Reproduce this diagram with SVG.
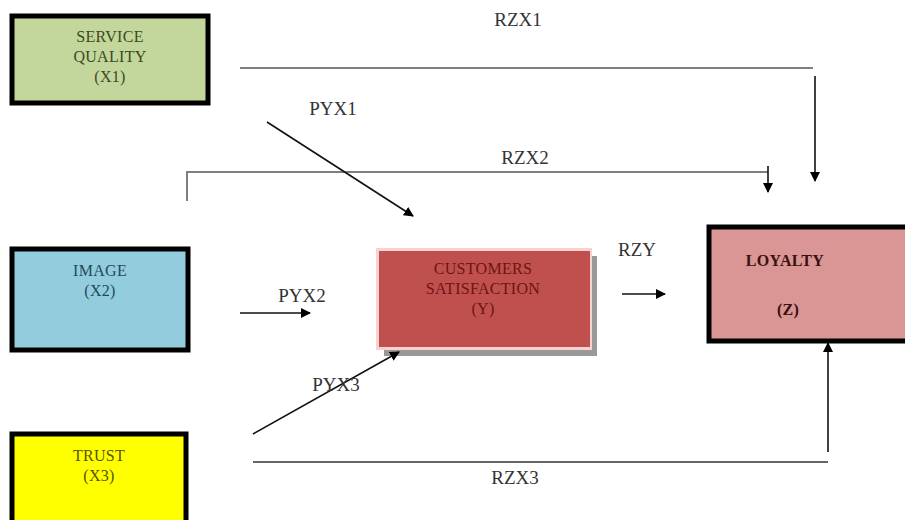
<svg xmlns="http://www.w3.org/2000/svg" width="905" height="520" viewBox="0 0 905 520">
<defs>
<marker id="ah" viewBox="0 0 10 10" refX="9" refY="5" markerWidth="10" markerHeight="10" markerUnits="userSpaceOnUse" orient="auto">
<path d="M0,0 L10,5 L0,10 z" fill="#000"/>
</marker>
</defs>
<style>
.box{stroke:#000;stroke-width:5}
.bt{font-family:"Liberation Serif",serif;font-size:16px;text-anchor:middle;letter-spacing:0.3px}
.lbl{font-family:"Liberation Serif",serif;font-size:19px;fill:#333;text-anchor:middle}
.gl{stroke:#7f7f7f;stroke-width:2;fill:none}
.al{stroke:#111;stroke-width:1.6;fill:none;marker-end:url(#ah)}
.pl{stroke:#333;stroke-width:1.6;fill:none}
</style>
<rect width="905" height="520" fill="#fff"/>
<g id="n-service">
<rect class="box" x="12" y="16" width="196" height="87" fill="#c3d69b"/>
<text class="bt" fill="#3b4a1e" x="110" y="42">SERVICE</text>
<text class="bt" fill="#3b4a1e" x="110" y="62">QUALITY</text>
<text class="bt" fill="#3b4a1e" x="110" y="82">(X1)</text>
</g>
<g id="n-image">
<rect class="box" x="12" y="249" width="176" height="101" fill="#93cddd"/>
<text class="bt" fill="#1f4a5a" x="100" y="276">IMAGE</text>
<text class="bt" fill="#1f4a5a" x="100" y="296">(X2)</text>
</g>
<g id="n-trust">
<rect class="box" x="12" y="434" width="174" height="92" fill="#ffff00"/>
<text class="bt" fill="#555500" x="99" y="461">TRUST</text>
<text class="bt" fill="#555500" x="99" y="481">(X3)</text>
</g>
<g id="n-satisfaction">
<rect x="384" y="256" width="213" height="100" fill="#999"/>
<rect x="376" y="248" width="216" height="102" fill="#f6d3d0"/>
<rect x="379" y="251" width="211" height="96" fill="#c0504d"/>
<text class="bt" fill="#6e1414" x="483" y="274">CUSTOMERS</text>
<text class="bt" fill="#6e1414" x="483" y="294">SATISFACTION</text>
<text class="bt" fill="#6e1414" x="483" y="314">(Y)</text>
</g>
<g id="n-loyalty">
<rect class="box" x="709" y="227" width="200" height="114" fill="#d99694"/>
<text class="bt" fill="#3a1010" x="785" y="266" font-weight="bold" font-size="18">LOYALTY</text>
<text class="bt" fill="#3a1010" x="788" y="315" font-weight="bold" font-size="17">(Z)</text>
</g>
<g id="connectors">
<polyline class="gl" points="240,68 813,68"/>
<line class="al" x1="815" y1="76" x2="815" y2="181"/>
<polyline class="gl" points="187,201 187,172 768,172"/>
<line class="al" x1="768" y1="166" x2="768" y2="192"/>
<line class="al" x1="267" y1="122" x2="413" y2="216"/>
<line class="al" x1="240" y1="313" x2="310" y2="313"/>
<line class="al" x1="622" y1="294" x2="665" y2="294"/>
<line class="al" x1="253" y1="434" x2="399" y2="352"/>
<polyline class="pl" points="253,462 828,462"/>
<line class="al" x1="828" y1="452" x2="828" y2="343"/>
</g>
<g id="labels">
<text class="lbl" x="518" y="26">RZX1</text>
<text class="lbl" x="333" y="115">PYX1</text>
<text class="lbl" x="525" y="164">RZX2</text>
<text class="lbl" x="302" y="302">PYX2</text>
<text class="lbl" x="637" y="256">RZY</text>
<text class="lbl" x="336" y="391">PYX3</text>
<text class="lbl" x="515" y="484">RZX3</text>
</g>
</svg>
